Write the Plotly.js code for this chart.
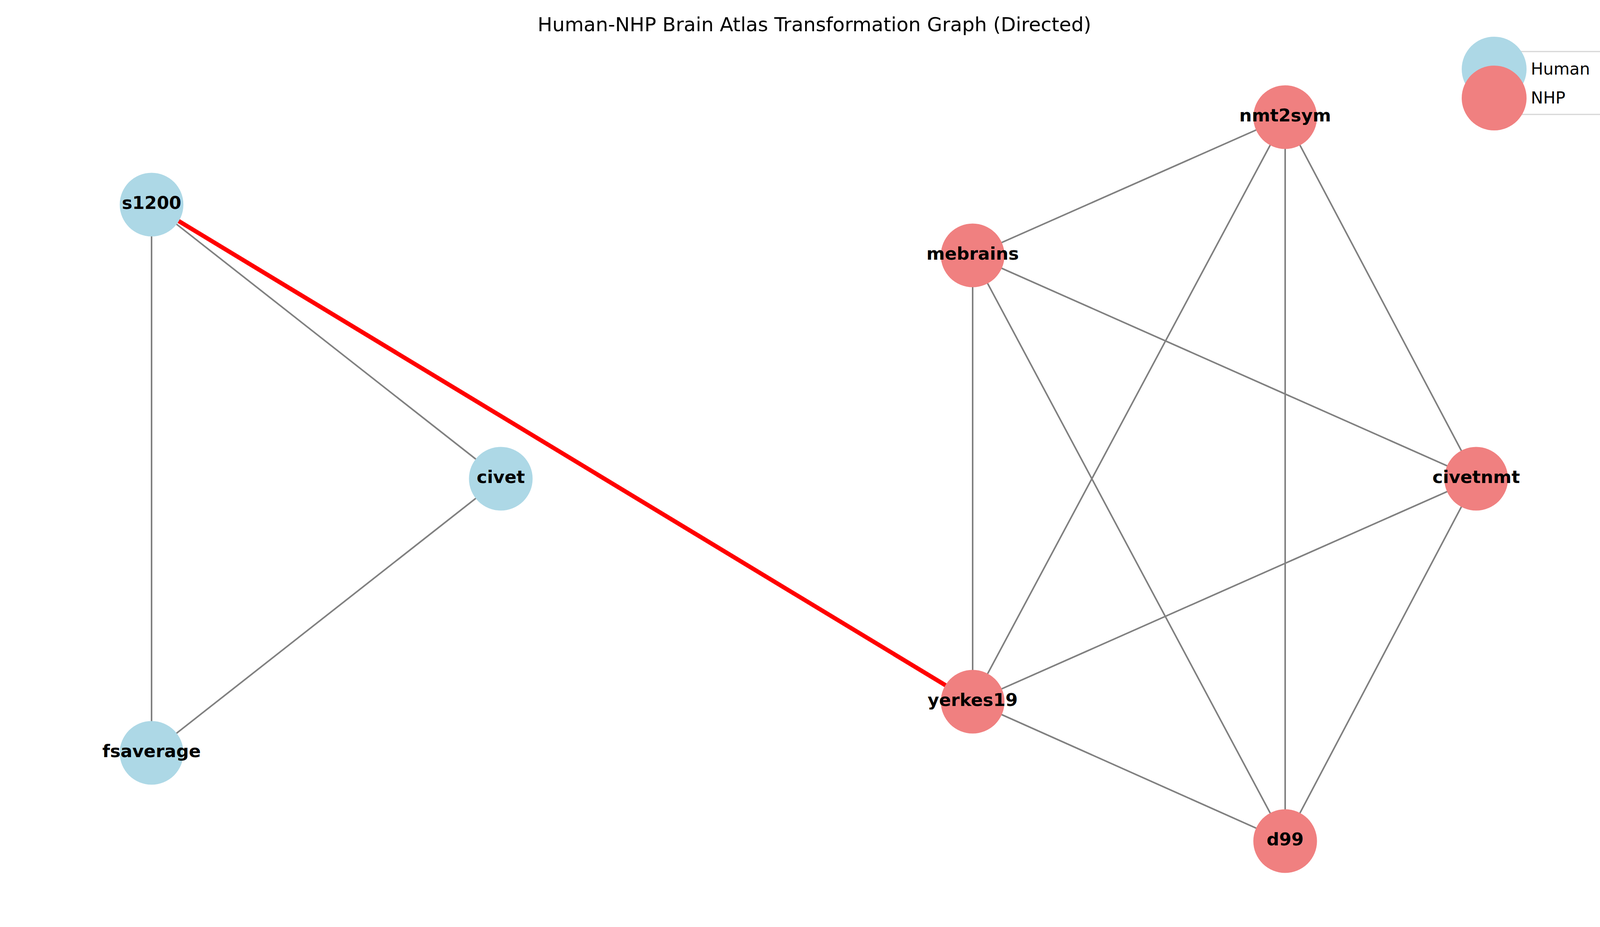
<!DOCTYPE html>
<html>
<head>
<meta charset="utf-8">
<script src="https://cdn.plot.ly/plotly-3.0.1.min.js"></script>
<style>html,body{margin:0;padding:0;background:#fff;}#graph{width:4170px;height:2374px;}</style>
</head>
<body>
<div id="graph"></div>
<script>
'use strict';

// node layout (as drawn)
const nodeNames = ['s1200', 'civet', 'fsaverage', 'mebrains', 'nmt2sym', 'civetnmt', 'yerkes19', 'd99'];
const nodeX = [388, 1282, 388, 2490, 3290, 3779, 2490, 3290];
const nodeY = [524, 1226, 1928, 654, 300, 1226, 1797, 2154];
const nodeGroup = ['Human', 'Human', 'Human', 'NHP', 'NHP', 'NHP', 'NHP', 'NHP'];

const edgeFrom = ['s1200', 's1200', 'civet', 'mebrains', 'mebrains', 'mebrains', 'mebrains', 'nmt2sym', 'nmt2sym', 'nmt2sym', 'civetnmt', 'civetnmt', 'yerkes19'];
const edgeTo = ['civet', 'fsaverage', 'fsaverage', 'nmt2sym', 'civetnmt', 'yerkes19', 'd99', 'yerkes19', 'd99', 'civetnmt', 'yerkes19', 'd99', 'd99'];
const bridgeFrom = ['s1200'];
const bridgeTo = ['yerkes19'];

const groupColors = {Human: '#add8e6', NHP: '#f08080'};

function edgeCoords(from, to) {
	const xs = [], ys = [];
	from.forEach(function(a, i) {
		const p = nodeNames.indexOf(a), q = nodeNames.indexOf(to[i]);
		xs.push(nodeX[p], nodeX[q], null);
		ys.push(nodeY[p], nodeY[q], null);
	});
	return {x: xs, y: ys};
}

const plain = edgeCoords(edgeFrom, edgeTo);
const bridge = edgeCoords(bridgeFrom, bridgeTo);

const traces = [
	{x: plain.x, y: plain.y, mode: 'lines', line: {color: '#808080', width: 4}, hoverinfo: 'skip', showlegend: false},
	{x: bridge.x, y: bridge.y, mode: 'lines', line: {color: '#ff0000', width: 11}, hoverinfo: 'skip', showlegend: false},
	{
		x: nodeX, y: nodeY, text: nodeNames, mode: 'markers+text', textposition: 'middle center',
		marker: {size: 163, color: nodeGroup.map(function(g){ return groupColors[g]; }), line: {width: 0}},
		textfont: {family: 'DejaVu Sans', size: 45, color: '#000', weight: 'bold'},
		texttemplate: '<b>%{text}</b>',
		showlegend: false
	}
];

const layout = {
	width: 4170, height: 2374,
	margin: {l: 0, r: 0, t: 0, b: 0},
	paper_bgcolor: '#fff', plot_bgcolor: '#fff',
	xaxis: {range: [0, 4170], visible: false, fixedrange: true},
	yaxis: {range: [2374, 0], visible: false, fixedrange: true},
	title: {text: 'Human-NHP Brain Atlas Transformation Graph (Directed)', x: 2085 / 4170, xanchor: 'center', y: 1 - 62 / 2374, yanchor: 'middle',
		font: {family: 'DejaVu Sans', size: 50, color: '#000'}},
	shapes: [
		{type: 'rect', xref: 'paper', yref: 'paper', x0: 3893 / 4170, x1: 4115 / 4170, y0: 1 - 132 / 2374, y1: 1 - 293 / 2374,
			line: {color: '#d6d6d6', width: 3}, fillcolor: '#fff'},
		{type: 'circle', xref: 'paper', yref: 'paper', x0: 3742 / 4170, x1: 3908 / 4170, y0: 1 - 94 / 2374, y1: 1 - 260 / 2374,
			line: {width: 0}, fillcolor: groupColors.Human},
		{type: 'circle', xref: 'paper', yref: 'paper', x0: 3742 / 4170, x1: 3908 / 4170, y0: 1 - 168 / 2374, y1: 1 - 334 / 2374,
			line: {width: 0}, fillcolor: groupColors.NHP}
	],
	annotations: [
		{text: 'Human', xref: 'paper', yref: 'paper', x: 3917 / 4170, y: 1 - 177 / 2374, xanchor: 'left', yanchor: 'middle', showarrow: false,
			font: {family: 'DejaVu Sans', size: 42, color: '#000'}},
		{text: 'NHP', xref: 'paper', yref: 'paper', x: 3917 / 4170, y: 1 - 250 / 2374, xanchor: 'left', yanchor: 'middle', showarrow: false,
			font: {family: 'DejaVu Sans', size: 42, color: '#000'}}
	],
	showlegend: false
};

Plotly.newPlot('graph', traces, layout, {staticPlot: true});
</script>
</body>
</html>
